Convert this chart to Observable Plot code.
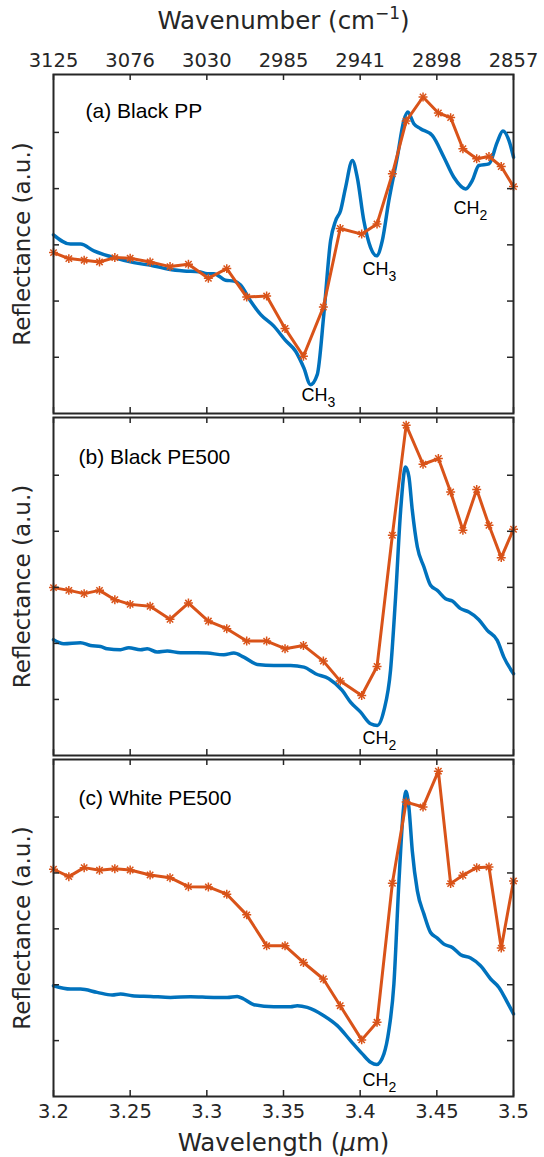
<!DOCTYPE html>
<html><head><meta charset="utf-8">
<script src="https://cdn.jsdelivr.net/npm/d3@7"></script>
<script src="https://cdn.jsdelivr.net/npm/@observablehq/plot@0.6"></script>
<style>
body{margin:0;background:#fff;}
#chart{position:relative;width:544px;height:1157px;overflow:hidden;background:#fff;}
#chart svg{position:absolute;left:0;overflow:visible;}
</style></head><body><div id="chart"></div>
<script>
// ---- tick values and labels ----
const xTicks = [3.2, 3.25, 3.3, 3.35, 3.4, 3.45, 3.5];
const xTickLabels = ["3.2", "3.25", "3.3", "3.35", "3.4", "3.45", "3.5"];
const wavenumberLabels = ["3125", "3076", "3030", "2985", "2941", "2898", "2857"];
const yTicks = [1, 2, 3, 4, 5];

// ---- orange (starred) series: shared wavelengths (µm) ----
const orangeX = [3.200, 3.210, 3.220, 3.230, 3.240, 3.250, 3.263, 3.276, 3.288, 3.301, 3.313, 3.326, 3.339, 3.351, 3.363, 3.376, 3.387, 3.401, 3.411, 3.421, 3.430, 3.441, 3.451, 3.459, 3.467, 3.476, 3.484, 3.492, 3.500];
const orangeA = [2.862, 2.755, 2.727, 2.696, 2.773, 2.763, 2.696, 2.613, 2.655, 2.405, 2.577, 2.071, 2.089, 1.513, 1.018, 1.893, 3.291, 3.191, 3.370, 4.263, 5.202, 5.630, 5.345, 5.263, 4.709, 4.530, 4.571, 4.393, 4.036];
const orangeB = [2.995, 2.946, 2.888, 2.946, 2.780, 2.696, 2.661, 2.429, 2.720, 2.398, 2.263, 2.041, 2.041, 1.905, 1.964, 1.684, 1.327, 1.071, 1.589, 3.929, 5.893, 5.196, 5.298, 4.702, 4.018, 4.745, 4.107, 3.530, 4.036];
const orangeC = [4.066, 3.934, 4.095, 4.048, 4.077, 4.054, 3.964, 3.916, 3.755, 3.750, 3.620, 3.250, 2.696, 2.696, 2.398, 2.102, 1.625, 1.013, 1.327, 3.816, 5.268, 5.179, 5.821, 3.809, 3.959, 4.095, 4.107, 2.655, 3.857];

// ---- blue (continuous) spectra ----
const blueAX = [3.2000, 3.2111, 3.2176, 3.2263, 3.2372, 3.2524, 3.2654, 3.2752, 3.2850, 3.2948, 3.3003, 3.3046, 3.3122, 3.3176, 3.3220, 3.3285, 3.3350, 3.3437, 3.3513, 3.3579, 3.3633, 3.3676, 3.3720, 3.3763, 3.3807, 3.3840, 3.3872, 3.3905, 3.3949, 3.3981, 3.4024, 3.4068, 3.4107, 3.4144, 3.4187, 3.4242, 3.4285, 3.4311, 3.4350, 3.4394, 3.4470, 3.4546, 3.4611, 3.4688, 3.4731, 3.4774, 3.4840, 3.4894, 3.4931, 3.4970, 3.5000];
const blueAY = [3.179, 3.013, 3.013, 2.893, 2.791, 2.684, 2.625, 2.566, 2.536, 2.523, 2.488, 2.488, 2.370, 2.357, 2.286, 2.000, 1.763, 1.554, 1.300, 1.107, 0.809, 0.513, 0.691, 1.763, 3.071, 3.429, 3.607, 4.023, 4.500, 4.202, 3.429, 2.952, 2.804, 3.071, 3.786, 4.559, 5.214, 5.363, 5.155, 5.066, 4.946, 4.559, 4.202, 3.995, 4.143, 4.411, 4.441, 4.827, 5.023, 4.857, 4.559];
const blueBX = [3.2000, 3.2067, 3.2176, 3.2241, 3.2307, 3.2350, 3.2437, 3.2491, 3.2568, 3.2611, 3.2676, 3.2742, 3.2828, 3.2937, 3.3003, 3.3111, 3.3176, 3.3241, 3.3329, 3.3437, 3.3546, 3.3633, 3.3709, 3.3796, 3.3883, 3.3937, 3.4003, 3.4068, 3.4112, 3.4155, 3.4198, 3.4231, 3.4264, 3.4296, 3.4318, 3.4340, 3.4373, 3.4416, 3.4459, 3.4503, 3.4557, 3.4601, 3.4655, 3.4709, 3.4774, 3.4829, 3.4894, 3.4937, 3.5000];
const blueBY = [2.066, 1.995, 2.013, 1.964, 1.946, 1.905, 1.888, 1.923, 1.888, 1.905, 1.845, 1.863, 1.834, 1.834, 1.827, 1.798, 1.827, 1.755, 1.625, 1.607, 1.607, 1.577, 1.459, 1.370, 1.161, 0.952, 0.773, 0.566, 0.536, 0.804, 1.518, 2.827, 4.375, 5.148, 4.970, 4.375, 3.720, 3.363, 3.036, 2.946, 2.798, 2.755, 2.620, 2.559, 2.423, 2.232, 2.054, 1.755, 1.459];
const blueCX = [3.2000, 3.2111, 3.2176, 3.2285, 3.2383, 3.2437, 3.2513, 3.2633, 3.2763, 3.2894, 3.3046, 3.3133, 3.3198, 3.3241, 3.3307, 3.3437, 3.3546, 3.3590, 3.3655, 3.3763, 3.3851, 3.3937, 3.4014, 3.4068, 3.4107, 3.4155, 3.4187, 3.4220, 3.4252, 3.4281, 3.4298, 3.4318, 3.4340, 3.4373, 3.4416, 3.4459, 3.4503, 3.4546, 3.4601, 3.4655, 3.4720, 3.4785, 3.4851, 3.4905, 3.4960, 3.5000];
const blueCY = [1.982, 1.923, 1.923, 1.863, 1.816, 1.834, 1.804, 1.791, 1.773, 1.786, 1.773, 1.773, 1.791, 1.745, 1.643, 1.607, 1.607, 1.625, 1.595, 1.446, 1.268, 1.000, 0.763, 0.613, 0.571, 0.763, 1.179, 2.013, 3.798, 5.107, 5.464, 5.166, 4.393, 3.679, 3.263, 2.934, 2.834, 2.727, 2.666, 2.536, 2.477, 2.339, 2.102, 1.952, 1.684, 1.477];

// ---- panel titles and band annotations ----
const panelLabels = ["(a) Black PP", "(b) Black PE500", "(c) White PE500"];
const annA = [{x: 3.3618, y: 0.214, t: "CH3"}, {x: 3.4016, y: 2.464, t: "CH3"}, {x: 3.4609, y: 3.554, t: "CH2"}];
const annB = [{x: 3.4016, y: 0.214, t: "CH2"}];
const annC = [{x: 3.4016, y: 0.196, t: "CH2"}];

const BLUE = "#0072BD", ORANGE = "#D95319", INK = "#262626";
const AX_FONT = "DejaVu Sans", ANN_FONT = "Liberation Sans";
const W = 544, ML = 53, MR = 31;

function panel({bx, by, oy, label, labelDx, labelDy, ann, top, height, marginTop, marginBottom, topAxis, bottomAxis}) {
  const frameH = height - marginTop - marginBottom;
  const frameW = W - ML - MR;
  const blue = bx.map((x, i) => ({x, y: by[i]}));
  const orange = orangeX.map((x, i) => ({x, y: oy[i]}));
  const marks = [
    Plot.line(blue, {x: "x", y: "y", stroke: BLUE, strokeWidth: 3.5, curve: "monotone-x"}),
    Plot.line(orange, {x: "x", y: "y", stroke: ORANGE, strokeWidth: 3}),
    Plot.dot(orange, {x: "x", y: "y", symbol: "plus", r: 3, stroke: ORANGE, strokeWidth: 1.5}),
    Plot.dot(orange, {x: "x", y: "y", symbol: "times", r: 3, stroke: ORANGE, strokeWidth: 1.5}),
    Plot.tickX(xTicks, {x: d => d, stroke: INK, strokeWidth: 1.5, insetTop: frameH - 6}),
    Plot.tickX(xTicks, {x: d => d, stroke: INK, strokeWidth: 1.5, insetBottom: frameH - 6}),
    Plot.tickY(yTicks, {y: d => d, stroke: INK, strokeWidth: 1.5, insetRight: frameW - 6}),
    Plot.tickY(yTicks, {y: d => d, stroke: INK, strokeWidth: 1.5, insetLeft: frameW - 6}),
    Plot.frame({stroke: INK, strokeWidth: 2}),
    Plot.text([label], {frameAnchor: "top-left", dx: labelDx, dy: labelDy, lineAnchor: "bottom", textAnchor: "start", fontSize: 21, fontFamily: ANN_FONT, fill: "black"}),
    Plot.text(ann, {x: "x", y: "y", text: "t", textAnchor: "start", lineAnchor: "bottom", fontSize: 18, fontFamily: ANN_FONT, fill: "black"}),
    Plot.text(["Reflectance (a.u.)"], {frameAnchor: "left", textAnchor: "middle", rotate: -90, dx: -31, fontSize: 23, fontFamily: AX_FONT, fill: INK})
  ];
  if (topAxis) {
    marks.push(Plot.axisX(xTicks, {anchor: "top", label: null, tickSize: 0, tickPadding: 8, tickFormat: d => wavenumberLabels[xTicks.indexOf(d)], fontSize: 19.5, fontFamily: AX_FONT, fill: INK}));
    marks.push(Plot.text(["Wavenumber (cm-1)"], {frameAnchor: "top", dy: -46, lineAnchor: "bottom", fontSize: 24.5, fontFamily: AX_FONT, fill: INK}));
  }
  if (bottomAxis) {
    marks.push(Plot.axisX(xTicks, {anchor: "bottom", label: null, tickSize: 0, tickPadding: 8, tickFormat: d => xTickLabels[xTicks.indexOf(d)], fontSize: 19.5, fontFamily: AX_FONT, fill: INK}));
    marks.push(Plot.text(["Wavelength (\u03BCm)"], {frameAnchor: "bottom", dy: 54, lineAnchor: "bottom", fontSize: 24.5, fontFamily: AX_FONT, fill: INK}));
  }
  const svg = Plot.plot({
    width: W, height, marginLeft: ML, marginRight: MR, marginTop, marginBottom,
    style: {background: "transparent", overflow: "visible"},
    x: {domain: [3.2, 3.5], axis: null, label: null},
    y: {domain: [0, 6.03], axis: null, label: null},
    marks
  });
  svg.style.top = top + "px";
  rich(svg);
  return svg;
}

function addT(parent, s) {
  const ts = document.createElementNS("http://www.w3.org/2000/svg", "tspan");
  ts.textContent = s;
  parent.appendChild(ts);
  return ts;
}
function rich(svg) {
  svg.querySelectorAll("text").forEach(t => {
    const s = t.textContent;
    let m;
    if ((m = /^CH(\d)$/.exec(s))) {
      t.textContent = "";
      addT(t, "CH");
      const sub = addT(t, m[1]);
      sub.setAttribute("dy", "6"); sub.setAttribute("font-size", "14");
    } else if (s === "Wavenumber (cm-1)") {
      t.textContent = "";
      addT(t, "Wavenumber (cm");
      const sup = addT(t, "\u22121");
      sup.setAttribute("dy", "-10"); sup.setAttribute("font-size", "17");
      const c = addT(t, ")"); c.setAttribute("dy", "10");
    } else if (s === "Wavelength (\u03BCm)") {
      t.textContent = "";
      addT(t, "Wavelength (");
      const mu = addT(t, "\u03BC"); mu.setAttribute("font-style", "italic");
      addT(t, "m)");
    }
  });
}

const chart = document.getElementById("chart");
chart.appendChild(panel({bx: blueAX, by: blueAY, oy: orangeA, label: panelLabels[0], labelDx: 32, labelDy: 43, ann: annA, top: 0, height: 414, marginTop: 74, marginBottom: 1, topAxis: true}));
chart.appendChild(panel({bx: blueBX, by: blueBY, oy: orangeB, label: panelLabels[1], labelDx: 25, labelDy: 46, ann: annB, top: 416, height: 340, marginTop: 1, marginBottom: 1}));
chart.appendChild(panel({bx: blueCX, by: blueCY, oy: orangeC, label: panelLabels[2], labelDx: 25, labelDy: 45, ann: annC, top: 758, height: 399, marginTop: 1, marginBottom: 61, bottomAxis: true}));
</script></body></html>
